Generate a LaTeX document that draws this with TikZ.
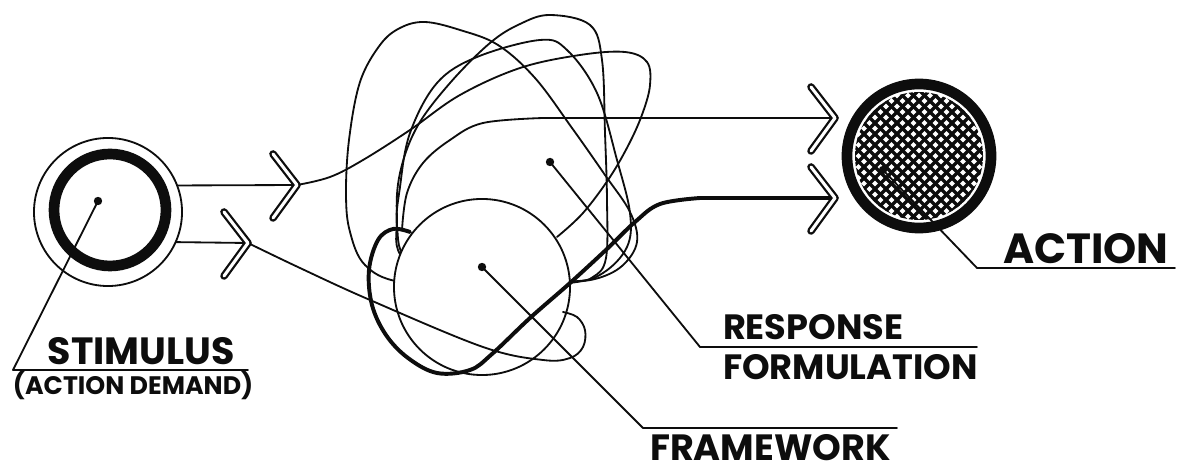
\documentclass[tikz,border=0pt]{standalone}
\usepackage{fontspec}
\newfontfamily\letterfont{Poppins}
\usetikzlibrary{calc}
\definecolor{SketchInk}{gray}{0.05}
\definecolor{SketchPaper}{gray}{1.0}
\tikzset{
    sketch/diagram/.style={
        x=0.025cm, y=-0.025cm,
        draw=SketchInk,
        line cap=round,
        line join=round,
        every node/.style={inner sep=0pt, outer sep=0pt}
    },
    sketch/thin/.style={draw=SketchInk, line width=1.3pt},
    sketch/bold/.style={draw=SketchInk, line width=2.8pt},
    sketch/leader/.style={draw=SketchInk, line width=1.3pt},
    sketch/ring/.style={draw=SketchInk, line width=7.6pt},
    sketch/hatch/.style={draw=SketchInk, line width=2.4pt, line cap=butt},
    sketch/chevron/.style={
        draw=SketchInk, line width=1.6pt,
        double=SketchPaper, double distance=2.2pt
    },
    sketch/dot/.style={circle, fill=SketchInk, draw=none, minimum size=2.1mm},
    sketch/label/.style={
        font=\letterfont\bfseries\fontsize{27}{27}\selectfont,
        text=SketchInk
    },
    sketch/small/.style={
        font=\letterfont\bfseries\fontsize{18}{18}\selectfont,
        text=SketchInk
    }
}

\begin{document}
\begin{tikzpicture}[sketch/diagram]
    \useasboundingbox (0,0) rectangle (1177,471);

    % stimulus
    \node[circle, sketch/thin, draw, minimum size=3.7cm] (stim) at (108,212) {};
    \draw[sketch/ring] (110,210) circle (56);
    \node[sketch/dot] (stimdot) at (98,201) {};

    % chevron tips
    \coordinate (inup) at (297,185);
    \coordinate (inlow) at (248,243);
    \coordinate (outup) at (835,118);
    \coordinate (outlow) at (835,198);

    % tangle of loops behind the framework
    \draw[sketch/thin] plot[smooth cycle, tension=0.6] coordinates {
        (425,22) (460,30) (498,45) (535,78) (572,128) (605,175) (630,212)
        (637,242) (622,266) (595,279) (560,282) (480,287) (400,282)
        (365,265) (350,232) (346,195) (349,140) (360,82) (380,45)
        (400,28)};
    \draw[sketch/thin] plot[smooth cycle, tension=0.6] coordinates {
        (550,15) (590,25) (602,60) (605,133) (607,200) (606,258) (593,277)
        (570,282) (480,290) (405,260) (397,217) (400,173) (417,127)
        (450,83) (490,43) (520,24)};
    \draw[sketch/thin] plot[smooth cycle, tension=0.6] coordinates {
        (477,57) (540,40) (567,50) (597,93) (617,160) (630,213) (627,247)
        (603,273) (570,283) (480,290) (410,262) (397,227) (400,187)
        (410,133) (437,83)};

    % framework
    \node[circle, sketch/thin, draw, fill=SketchPaper, minimum size=4.4cm]
        (frame) at (482,287) {};

    % inputs
    \draw[sketch/thin] (stim.21.4) -- (inup);
    \draw[sketch/thin] (stim.-24.8) -- (inlow);
    \draw[sketch/thin] plot[smooth, tension=0.6] coordinates {
        (inup) (330,177) (363,160) (410,130) (460,95) (520,68) (580,55)
        (625,52) (647,62) (650,85) (643,112) (630,142) (610,177)
        (583,213) (557,237)};
    \draw[sketch/thin] plot[smooth, tension=0.6] coordinates {
        (inlow) (300,268) (370,300) (483,347) (543,360) (570,358)
        (583,347) (585,330) (577,317) (563,312)};

    % outputs
    \draw[sketch/thin] plot[smooth, tension=0.6] coordinates {
        (402,230) (407,193) (423,163) (450,140) (483,123) (543,118)}
        -- (outup);
    \draw[sketch/bold] plot[smooth, tension=0.6] coordinates {
        (410,232) (393,229) (378,240) (369,270) (372,305) (386,335)
        (408,358) (437,373) (470,370) (492,354) (530,318) (570,283)
        (608,248) (635,222) (660,204) (700,198)} -- (outlow);

    \foreach \tip in {inup,inlow,outup,outlow}
        \draw[sketch/chevron] ([shift={(-24,-31)}]\tip) -- (\tip)
            -- ([shift={(-24,33)}]\tip);

    % action
    \begin{scope}
        \clip (919,156) circle (64);
        \foreach \k in {-9,...,9} {
            \draw[sketch/hatch] ($(919,156)+(\k*11-100,-100)$) -- ++(200,200);
            \draw[sketch/hatch] ($(919,156)+(\k*11-100,100)$) -- ++(200,-200);
        }
    \end{scope}
    \node[circle, sketch/ring, draw, minimum size=3.6cm] (act) at (919,156) {};
    \node[sketch/dot] (actdot) at (883,170) {};

    % dots of the tangle
    \node[sketch/dot] (framedot) at (482,267) {};
    \node[sketch/dot] (respdot) at (550,162) {};

    % labels
    \node[sketch/label, anchor=base west] (stimlbl) at (48,365) {STIMULUS};
    \node[sketch/small, anchor=base west] (demandlbl) at (13,395) {(ACTION DEMAND)};
    \node[sketch/label, anchor=base west, font=\letterfont\bfseries\fontsize{30}{30}\selectfont]
        (actlbl) at (1003,264) {ACTION};
    \node[sketch/label, anchor=base west, font=\letterfont\bfseries\fontsize{25}{25}\selectfont]
        (resplbl) at (723,340) {RESPONSE};
    \node[sketch/label, anchor=base west, font=\letterfont\bfseries\fontsize{25}{25}\selectfont]
        (formlbl) at (723,380) {FORMULATION};
    \node[sketch/label, anchor=base west, font=\letterfont\bfseries\fontsize{26}{26}\selectfont]
        (framelbl) at (650,460) {FRAMEWORK};

    % leaders
    \coordinate (stimbend) at (13,370);
    \coordinate (stimend) at (248,370);
    \coordinate (actbend) at (977,268);
    \coordinate (actend) at (1175,268);
    \coordinate (respbend) at (700,347);
    \coordinate (respend) at (977,347);
    \coordinate (framebend) at (643,428);
    \coordinate (frameend) at (897,428);
    \draw[sketch/leader] (stimdot.center) -- (stimbend) -- (stimend);
    \draw[sketch/leader] (actdot.center) -- (actbend) -- (actend);
    \draw[sketch/leader] (respdot.center) -- (respbend) -- (respend);
    \draw[sketch/leader] (framedot.center) -- (framebend) -- (frameend);
\end{tikzpicture}
\end{document}
